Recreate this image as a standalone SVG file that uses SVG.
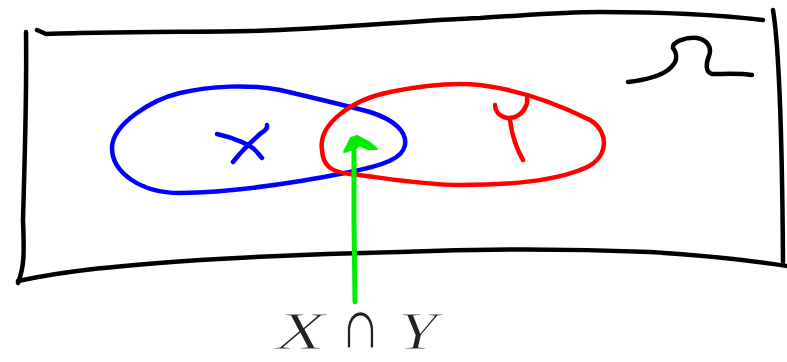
<svg xmlns="http://www.w3.org/2000/svg" width="787" height="362" viewBox="0 0 787 362">
<style>
.ink{fill:none;stroke-linecap:round;stroke-linejoin:round}
.frame{stroke:#000;stroke-width:4.5}
.blue{stroke:#0000ff;stroke-width:4.5}
.red{stroke:#ff0000;stroke-width:4.5}
.green{stroke:#00ee00;stroke-width:5}
.lbl{font-family:"Liberation Serif","DejaVu Serif",serif;font-size:52px;fill:#222;stroke:#fff;stroke-width:1.1px;paint-order:fill}
.it{font-style:italic}
</style>
<rect width="787" height="362" fill="#fff"/>
<g id="omega-frame">
<path class="ink frame" d="M37,30 L46,34 C100,32 200,32 250,31 C330,29 420,20 480,18 C530,15 560,12 600,12 C660,12 720,15 763,20"/>
<path class="ink frame" d="M26,32 C27,100 24,180 23,220 C24,250 25,265 18,283"/>
<path class="ink frame" d="M18,281 C60,272 100,267 200,260 C300,254 350,253 400,252 C500,248 600,250 650,252 C720,256 760,262 787,266"/>
<path class="ink frame" d="M773,10 C778,40 782,120 783,262"/>
<path class="ink frame" d="M628,82 C645,80 660,76 668,70 C678,62 678,55 673,48 C672,42 685,37 697,38 C708,40 712,48 709,56 C706,63 705,72 712,74 C725,74 740,73 752,75"/>
</g>
<g id="set-x">
<path class="ink blue" d="M112,148 C112,125 150,100 180,93 C210,86 250,84 280,90 C310,97 340,104 370,112 C395,120 407,132 405,145 C403,158 385,165 350,172 C300,182 240,192 180,193 C140,193 112,172 112,148 Z"/>
<path class="ink blue" d="M217,134 C235,138 250,145 255,150 C258,153 260,156 262,158"/>
<path class="ink blue" d="M267,125 C268,129 264,131 260,134 C250,143 240,153 233,162"/>
</g>
<g id="set-y">
<path class="ink red" d="M322,150 C318,125 350,100 390,92 C420,86 450,82 480,85 C520,90 560,105 590,120 C610,132 610,160 580,170 C555,180 510,185 460,185 C420,185 380,177 350,174 C330,172 323,165 322,150 Z"/>
<path class="ink red" d="M495,105 C495,110 498,116 507,118 C516,119 523,113 526,106 C528,102 527,99 527,98"/>
<path class="ink red" d="M510,120 C512,135 516,148 523,160"/>
</g>
<g id="connectors">
<path class="ink green" d="M355,302 L354,220 L354,145"/>
<path d="M344,152 L351,138 L357,136 L370,143 L377,149 L368,149 L359,145 L356,148 Z" fill="#00ee00" stroke="#00ee00" stroke-width="2" stroke-linejoin="round"/>
</g>
<g id="label-intersection">
<text class="lbl it" x="276" y="349" textLength="49" lengthAdjust="spacingAndGlyphs">X</text>
<text class="lbl" x="343" y="348" textLength="35" lengthAdjust="spacingAndGlyphs" style="font-family:'DejaVu Serif',serif;font-size:58px">∩</text>
<text class="lbl it" x="398" y="349" textLength="39" lengthAdjust="spacingAndGlyphs">Y</text>
</g>
</svg>
